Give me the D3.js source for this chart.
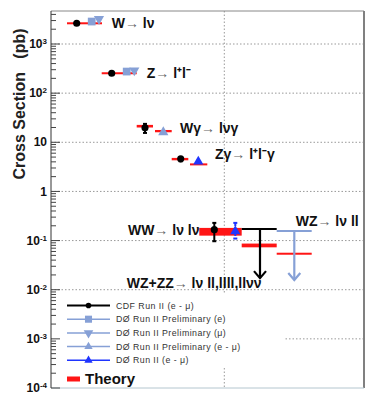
<!DOCTYPE html>
<html>
<head>
<meta charset="utf-8">
<script src="https://d3js.org/d3.v7.min.js"></script>
<style>
  body { margin: 0; background: #fff; }
  text { font-family: Arial, "Liberation Sans", sans-serif; }
</style>
</head>
<body>
<svg id="chart" width="379" height="409"></svg>
<script>
// ---- data (x in arbitrary slot units, cross sections in pb) ----
var theoryX0 = [1.6, 5.07, 8.57, 10.4, 12.07, 13.9, 14.83, 19.07, 22.57];
var theoryX1 = [5.1, 8.57, 10.2, 12.07, 13.73, 15.63, 19.07, 22.57, 26.07];
var theoryLo = [2640, 254, 20.0, 16.0, 4.30, 3.39, 0.126, 0.0729, 0.054];
var theoryHi = [2640, 254, 22.6, 17.8, 4.81, 3.72, 0.181, 0.0869, 0.054];

var cdfX   = [2.57, 6.07, 9.4, 12.97, 16.33];
var cdfVal = [2640, 254, 19.7, 4.6, 0.167];
var cdfLo  = [2640, 254, 15.5, 4.1, 0.097];
var cdfHi  = [2640, 254, 23.7, 5.0, 0.229];

var d0eX = [4.07, 7.57],  d0eVal = [2865, 275];
var d0muX = [4.8, 8.33],  d0muVal = [3226, 291];
var d0emuPX = [11.23],    d0emuPVal = [16.0];
var d0X = [14.73, 18.43], d0Val = [4.04, 0.155], d0Lo = [4.04, 0.11], d0Hi = [4.04, 0.229];

var limX0 = [19.07, 22.57], limX1 = [22.57, 26.07], limArrowX = [20.9, 24.33];
var limVal = [0.172, 0.157], limSeries = [0, 1];

var labelText = ["W→ lν", "Z→ l⁺l⁻", "Wγ→ lνγ", "Zγ→ l⁺l⁻γ", "WW→ lν lν", "WZ→ lν ll", "WZ+ZZ→ lν ll,llll,llνν"];
var labelX    = [6.07, 9.57, 12.9, 16.4, 14.85, 24.47, 7.57];
var labelVal  = [2640, 254, 19.7, 5.8, 0.167, 0.25, 0.0135];

var legendNames = ["CDF Run II (e - μ)", "DØ Run II Preliminary (e)", "DØ Run II Preliminary (μ)",
                   "DØ Run II Preliminary (e - μ)", "DØ Run II (e - μ)"];
var yTickExps = [-4, -3, -2, -1, 0, 1, 2, 3];

// ---- styling ----
var black = "#000", light = "#86a0d6", dark = "#1f35ff", red = "#ff1515";

var svg = d3.select("#chart");
var pLeft = 51, pRight = 364, pTop = 11, pBottom = 388;

var x = d3.scaleLinear().domain([0, 31.3]).range([pLeft, pRight]);
var y = d3.scaleLog().domain([1e-4, Math.pow(10, 3 + 33 / 49.13)]).range([pBottom, pTop]);

// gridlines
svg.selectAll(".hgrid").data(yTickExps.filter(function(e) { return e > -4; }))
  .enter().append("line")
  .attr("x1", pLeft).attr("x2", pRight - 1)
  .attr("y1", function(e) { return y(Math.pow(10, e)); })
  .attr("y2", function(e) { return y(Math.pow(10, e)); })
  .attr("stroke", "#999").attr("stroke-dasharray", "1.5,2");
svg.append("line")
  .attr("x1", x(17.33)).attr("x2", x(17.33)).attr("y1", pTop).attr("y2", pBottom)
  .attr("stroke", "#999").attr("stroke-dasharray", "1.5,2");

// legend background hides grid
svg.append("rect").attr("x", pLeft + 1).attr("y", 293).attr("width", 233).attr("height", 73).attr("fill", "#fff");

// frame
svg.append("line").attr("x1", pLeft).attr("x2", pRight).attr("y1", pTop).attr("y2", pTop).attr("stroke", "#888");
svg.append("line").attr("x1", pRight).attr("x2", pRight).attr("y1", pTop).attr("y2", pBottom).attr("stroke", "#808080").attr("stroke-width", 2);
svg.append("line").attr("x1", pLeft).attr("x2", pRight).attr("y1", pBottom).attr("y2", pBottom).attr("stroke", "#b4c6cf");
svg.append("line").attr("x1", pLeft).attr("x2", pLeft).attr("y1", pTop).attr("y2", pBottom).attr("stroke", "#333");

// ticks (inward)
var allTicks = y.ticks();
svg.selectAll(".ytick").data(allTicks).enter().append("line")
  .attr("x1", pLeft).attr("y1", function(d) { return y(d); }).attr("y2", function(d) { return y(d); })
  .attr("x2", function(d) {
    var l = Math.log10(d);
    return Math.abs(l - Math.round(l)) < 1e-6 ? pLeft + 9 : pLeft + 5;
  })
  .attr("stroke", "#444");

// tick labels
var tl = svg.selectAll(".ylab").data(yTickExps).enter().append("text")
  .attr("x", 47).attr("y", function(e) { return y(Math.pow(10, e)); })
  .attr("dy", "0.35em").attr("text-anchor", "end")
  .attr("font-size", 12).attr("font-weight", "bold").attr("fill", "#111");
tl.each(function(e) {
  var t = d3.select(this);
  if (e === 0) { t.text("1"); return; }
  t.append("tspan").text("10");
  if (e !== 1) t.append("tspan").attr("font-size", 8).attr("dy", "-0.5em").text(e);
});

// axis title
svg.append("text")
  .attr("transform", "translate(25,104) rotate(-90)")
  .attr("text-anchor", "middle").attr("font-size", 16).attr("font-weight", "bold")
  .attr("fill", "#222").style("white-space", "pre")
  .text("Cross Section   (pb)");

// theory bands
svg.selectAll(".theory").data(theoryX0).enter().append("rect")
  .attr("x", function(d) { return x(d); })
  .attr("width", function(d, i) { return x(theoryX1[i]) - x(d); })
  .attr("y", function(d, i) {
    var h = y(theoryLo[i]) - y(theoryHi[i]);
    return h < 2 ? (y(theoryLo[i]) + y(theoryHi[i])) / 2 - 1 : y(theoryHi[i]);
  })
  .attr("height", function(d, i) { return Math.max(2, y(theoryLo[i]) - y(theoryHi[i])); })
  .attr("fill", red);

// limits with arrows
var seriesColor = [black, light];
limX0.forEach(function(x0, i) {
  var c = seriesColor[limSeries[i]];
  var yv = y(limVal[i]), yt = y(limVal[i] / 10);
  var g = svg.append("g").attr("stroke", c).attr("fill", "none");
  g.append("line").attr("x1", x(x0)).attr("x2", x(limX1[i])).attr("y1", yv).attr("y2", yv).attr("stroke-width", 2);
  g.append("line").attr("x1", x(limArrowX[i])).attr("x2", x(limArrowX[i])).attr("y1", yv).attr("y2", yt).attr("stroke-width", 2.2);
  g.append("path").attr("d", "M" + (x(limArrowX[i]) - 6) + "," + (yt - 7) + "L" + x(limArrowX[i]) + "," + yt + "L" + (x(limArrowX[i]) + 6) + "," + (yt - 7))
    .attr("stroke-width", 2.2);
});

// error bars
function errBars(xs, lo, hi, color, dash) {
  xs.forEach(function(xv, i) {
    if (lo[i] === hi[i]) return;
    var g = svg.append("g").attr("stroke", color).attr("stroke-width", 2);
    g.append("line").attr("x1", x(xv)).attr("x2", x(xv)).attr("y1", y(hi[i])).attr("y2", y(lo[i]))
      .attr("stroke-dasharray", dash || null);
    [lo[i], hi[i]].forEach(function(v) {
      g.append("line").attr("x1", x(xv) - 2).attr("x2", x(xv) + 2).attr("y1", y(v)).attr("y2", y(v));
    });
  });
}
errBars(cdfX, cdfLo, cdfHi, black);
errBars(d0X, d0Lo, d0Hi, dark, "3,2");

// markers
function markers(xs, vals, type, size, color, rot) {
  svg.selectAll(null).data(xs).enter().append("path")
    .attr("d", d3.symbol().type(type).size(size))
    .attr("transform", function(d, i) { return "translate(" + x(d) + "," + y(vals[i]) + ") rotate(" + (rot || 0) + ")"; })
    .attr("fill", color);
}
markers(cdfX, cdfVal, d3.symbolCircle, 40, black);
markers(d0eX, d0eVal, d3.symbolSquare, 60, light);
markers(d0muX, d0muVal, d3.symbolTriangle, 45, light, 180);
markers(d0emuPX, d0emuPVal, d3.symbolTriangle, 45, light);
markers(d0X, d0Val, d3.symbolTriangle, 45, dark);

// process labels
labelText.forEach(function(s, i) {
  var parts = s.split("→");
  var t = svg.append("text")
    .attr("x", x(labelX[i])).attr("y", y(labelVal[i])).attr("dy", "0.35em")
    .attr("text-anchor", i === 4 ? "end" : "start")
    .attr("font-size", 14).attr("font-weight", "bold").attr("fill", "#111")
    .style("white-space", "pre");
  t.append("tspan").text(parts[0]);
  t.append("tspan").attr("font-weight", "normal").attr("fill", "#666").text("→");
  t.append("tspan").text(parts[1]);
});

// legend
var legColors = [black, light, light, light, dark];
var legTypes = [d3.symbolCircle, d3.symbolSquare, d3.symbolTriangle, d3.symbolTriangle, d3.symbolTriangle];
var legRot = [0, 0, 180, 0, 0];
var legSize = [25, 50, 40, 30, 30];
var leg = svg.selectAll(".leg").data(legendNames).enter().append("g")
  .attr("transform", function(d, i) { return "translate(0," + (305.5 + i * 13.7) + ")"; });
leg.append("line").attr("x1", 67).attr("x2", 110)
  .attr("stroke", function(d, i) { return legColors[i]; })
  .attr("stroke-width", function(d, i) { return i === 0 ? 2 : 1.5; });
leg.append("path")
  .attr("d", function(d, i) { return d3.symbol().type(legTypes[i]).size(legSize[i])(); })
  .attr("transform", function(d, i) { return "translate(88.5,0) rotate(" + legRot[i] + ")"; })
  .attr("fill", function(d, i) { return legColors[i]; });
leg.append("text").attr("x", 116).attr("dy", "0.35em")
  .attr("font-size", 8.8).attr("letter-spacing", 0.45).attr("fill", "#333")
  .text(function(d) { return d; });

svg.append("rect").attr("x", 67).attr("y", 376.5).attr("width", 13).attr("height", 5).attr("fill", red);
svg.append("text").attr("x", 85).attr("y", 384).attr("font-size", 15).attr("font-weight", "bold")
  .attr("fill", "#111").text("Theory");
</script>
</body>
</html>
